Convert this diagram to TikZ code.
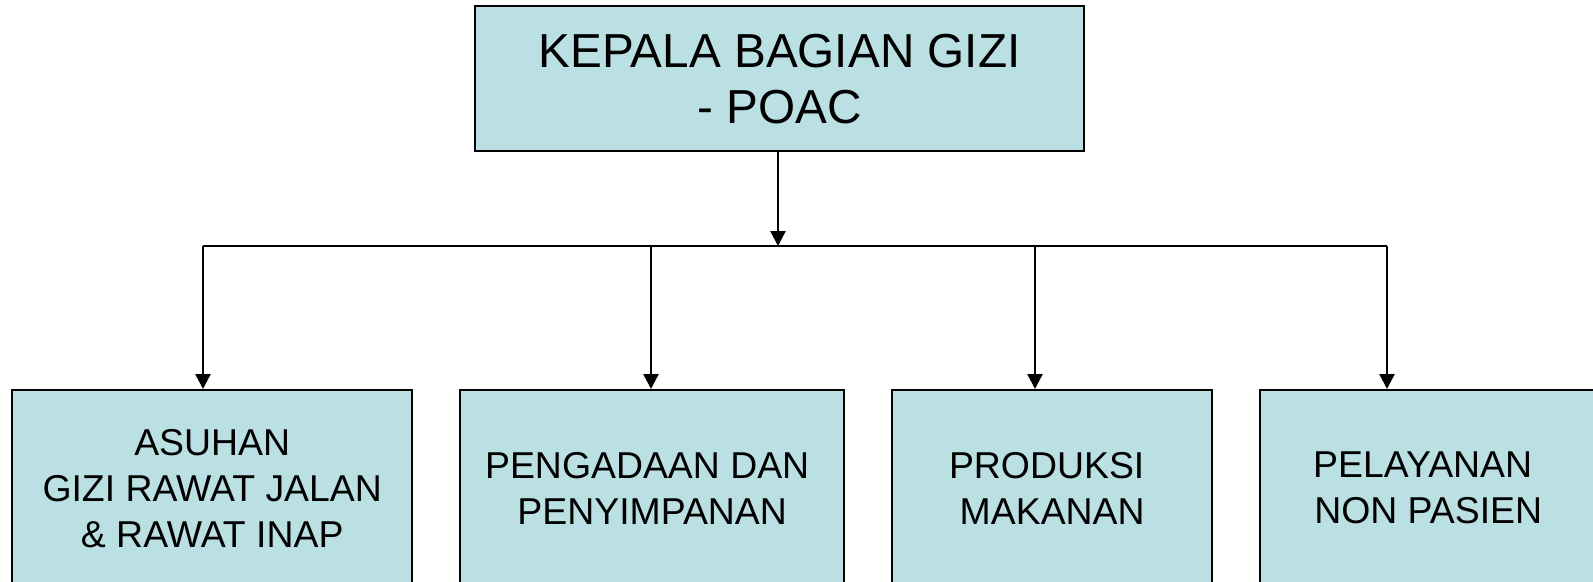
\documentclass[tikz,border=0pt]{standalone}
\usepackage{fontspec}
\setmainfont{Liberation Sans}
\usetikzlibrary{arrows.meta}
\definecolor{boxfill}{RGB}{187,224,227}
\tikzset{
  orgbox/.style={draw=black, line width=2.4pt, fill=boxfill, inner sep=0pt,
    align=center, anchor=north west},
  toptext/.style={font=\fontsize{47.7}{56}\selectfont},
  subtext/.style={font=\fontsize{37.4}{46}\selectfont},
  link/.style={line width=2.4pt, draw=black},
  linkarrow/.style={link, -{Triangle[width=15pt,length=15pt]}}
}
\begin{document}
\begin{tikzpicture}[x=1pt,y=-1pt]
\clip (0,0) rectangle (1593,581);
\fill[white] (0,0) rectangle (1593,581);
\node[orgbox, toptext, minimum width=609pt, minimum height=145pt] (top) at (474,5)
  {KEPALA BAGIAN GIZI\\- POAC};
\node[orgbox, subtext, minimum width=400pt, minimum height=196pt] (b1) at (11,389)
  {ASUHAN\\GIZI RAWAT JALAN\\\& RAWAT INAP};
\node[orgbox, subtext, minimum width=384pt, minimum height=196pt] (b2) at (459,389)
  {PENGADAAN DAN\hspace*{10pt}\\PENYIMPANAN};
\node[orgbox, subtext, minimum width=320pt, minimum height=196pt] (b3) at (891,389)
  {PRODUKSI\hspace*{11pt}\\MAKANAN};
\node[orgbox, subtext, minimum width=336pt, minimum height=196pt] (b4) at (1259,389)
  {PELAYANAN\hspace*{11pt}\\NON PASIEN};
\coordinate (j0) at (778,246);
\coordinate (j1) at (203,246);
\coordinate (j2) at (651,246);
\coordinate (j3) at (1035,246);
\coordinate (j4) at (1387,246);
\draw[link] (j1) -- (j4);
\draw[linkarrow] (j0 |- top.south) -- (j0);
\draw[linkarrow] (j1) -- (j1 |- b1.north);
\draw[linkarrow] (j2) -- (j2 |- b2.north);
\draw[linkarrow] (j3) -- (j3 |- b3.north);
\draw[linkarrow] (j4) -- (j4 |- b4.north);
\end{tikzpicture}
\end{document}
